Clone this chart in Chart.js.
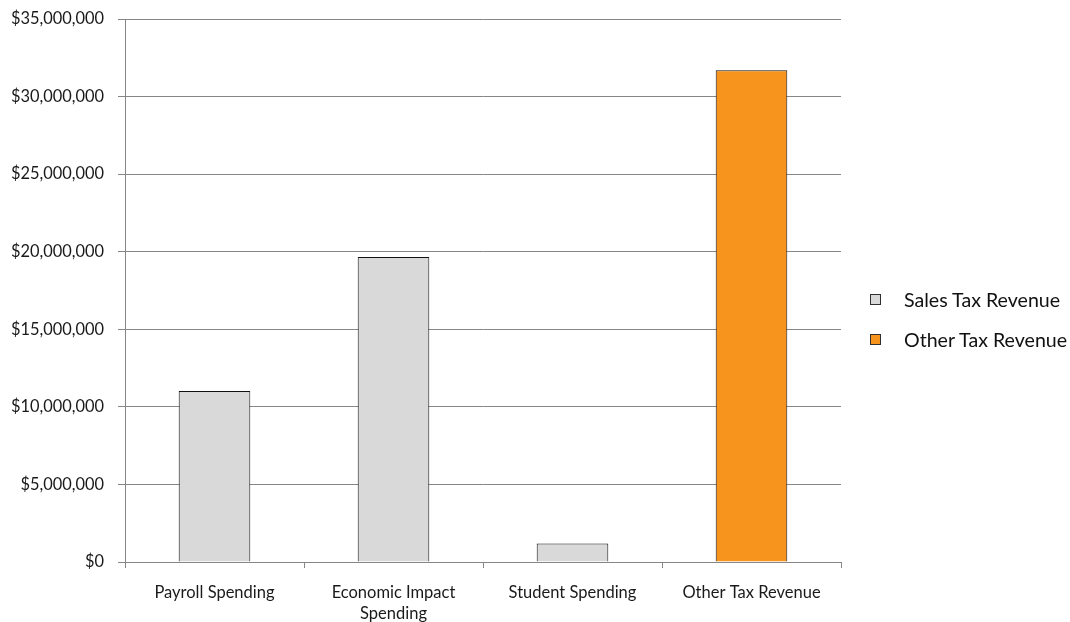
<!DOCTYPE html>
<html>
<head>
<meta charset="utf-8">
<script src="https://cdn.jsdelivr.net/npm/chart.js@4"></script>
<style>
  html, body { margin: 0; padding: 0; background: #fff; }
  #wrap { position: relative; width: 1070px; height: 622px; }
  #legend { position: absolute; left: 870px; top: 279px; font-family: Lato, "Open Sans", sans-serif; font-size: 19.6px; color: #111; white-space: nowrap; }
  .item { display: flex; align-items: center; height: 40px; }
  .box { width: 9px; height: 9px; border: 1px solid #303030; margin-right: 23px; flex: none; }
</style>
</head>
<body>
<div id="wrap">
  <canvas id="c" width="1070" height="622"></canvas>
  <div id="legend"></div>
</div>
<script>
const categories = [['Payroll Spending'], ['Economic Impact', 'Spending'], ['Student Spending'], ['Other Tax Revenue']];
const salesTaxRevenue = [11030000, 19660000, 1200000, null];
const otherTaxRevenue = [null, null, null, 31700000];
const seriesNames = ['Sales Tax Revenue', 'Other Tax Revenue'];
const seriesColors = ['#D9D9D9', '#F7941D'];
const yMax = 35000000;
const yStep = 5000000;

const fmt = v => '$' + Math.round(v).toLocaleString('en-US');

const chart = new Chart(document.getElementById('c'), {
  type: 'bar',
  data: {
    labels: categories,
    datasets: [
      { label: seriesNames[0], data: salesTaxRevenue, backgroundColor: seriesColors[0], borderColor: '#111', borderWidth: 1, borderSkipped: 'bottom' },
      { label: seriesNames[1], data: otherTaxRevenue, backgroundColor: seriesColors[1], borderColor: '#111', borderWidth: 1, borderSkipped: 'bottom' }
    ]
  },
  options: {
    responsive: false,
    animation: false,
    skipNull: true,
    layout: { padding: { left: 0, right: 229, top: 19, bottom: 0 } },
    datasets: { bar: { barPercentage: 0.4, categoryPercentage: 1.0, grouped: true } },
    plugins: { legend: { display: false }, tooltip: { enabled: false } },
    scales: {
      x: {
        grid: { offset: true, drawOnChartArea: false, drawTicks: true, tickLength: 6, color: '#868686' },
        border: { color: '#868686' },
        ticks: { color: '#1a1a1a', font: { family: 'Lato', size: 16.5, lineHeight: 1.28 }, padding: 14, maxRotation: 0 },
        afterFit: s => { s.height = 60; s.paddingLeft = 0; s.paddingRight = 0; }
      },
      y: {
        min: 0, max: yMax,
        grid: { color: '#868686', tickLength: 7 },
        border: { color: '#868686' },
        ticks: { stepSize: yStep, color: '#1a1a1a', font: { family: 'Lato', size: 16.4 }, padding: 14, callback: v => fmt(v) },
        afterFit: s => { s.width = 125; s.paddingTop = 0; s.paddingBottom = 0; }
      }
    }
  }
});

const lg = document.getElementById('legend');
chart.data.datasets.forEach(ds => {
  const it = document.createElement('div'); it.className = 'item';
  const b = document.createElement('span'); b.className = 'box'; b.style.background = ds.backgroundColor;
  const t = document.createElement('span'); t.textContent = ds.label;
  it.appendChild(b); it.appendChild(t); lg.appendChild(it);
});
</script>
</body>
</html>
